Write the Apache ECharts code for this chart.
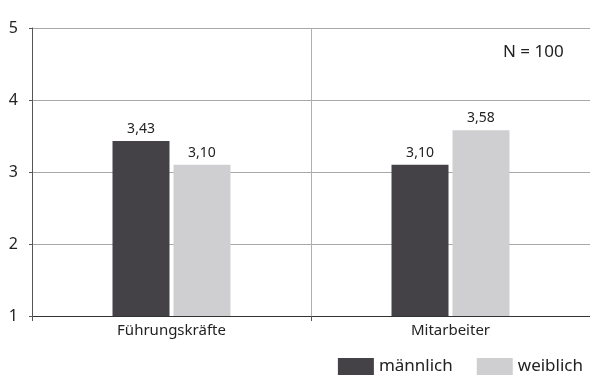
<!DOCTYPE html>
<html>
<head>
<meta charset="utf-8">
<script src="https://cdn.jsdelivr.net/npm/echarts@6/dist/echarts.min.js"></script>
<style>
  html, body { margin: 0; padding: 0; background: #fff; }
  #chart { width: 590px; height: 380px; }
</style>
</head>
<body>
<div id="chart"></div>
<script>
// Gruppen und Mittelwerte je Geschlecht
const categories = ['Führungskräfte', 'Mitarbeiter'];
const maennlich = [3.43, 3.10];
const weiblich = [3.10, 3.58];
const seriesNames = ['männlich', 'weiblich'];
const yTicks = [1, 2, 3, 4, 5];
const sampleNote = 'N = 100';

const FONT = '"Noto Sans", "Open Sans", sans-serif';
const fmt = v => v.toFixed(2).replace('.', ',');

const chart = echarts.init(document.getElementById('chart'), null, { renderer: 'canvas' });

const barLabel = {
  show: true,
  position: 'top',
  distance: 5,
  color: '#222',
  fontFamily: FONT,
  fontSize: 14,
  formatter: p => fmt(p.value)
};

chart.setOption({
  animation: false,
  textStyle: { fontFamily: FONT },
  grid: { left: 32, right: 0, top: 28, bottom: 64, containLabel: false },
  legend: {
    right: 2,
    bottom: 0,
    itemWidth: 36,
    itemHeight: 17,
    itemGap: 24,
    icon: 'rect',
    textStyle: { fontFamily: FONT, fontSize: 17, color: '#222', padding: [0, 0, 0, 0] },
    data: seriesNames
  },
  xAxis: {
    type: 'category',
    data: categories,
    boundaryGap: true,
    axisLine: { lineStyle: { color: '#333', width: 1 } },
    axisTick: { show: true, length: 5, lineStyle: { color: '#555' } },
    axisLabel: { color: '#222', fontFamily: FONT, fontSize: 15, margin: 7 },
    splitLine: { show: true, lineStyle: { color: '#b0b0b0', width: 1 } }
  },
  yAxis: {
    type: 'value',
    min: yTicks[0],
    max: yTicks[yTicks.length - 1],
    interval: 1,
    axisLine: { show: true, lineStyle: { color: '#555', width: 1 } },
    axisTick: { show: true, length: 3, lineStyle: { color: '#555' } },
    axisLabel: { color: '#222', fontFamily: FONT, fontSize: 16, margin: 14, align: 'right' },
    splitLine: { show: true, lineStyle: { color: '#a8a8a8', width: 1 } }
  },
  series: [
    {
      name: seriesNames[0],
      type: 'bar',
      data: maennlich,
      barWidth: 57,
      barGap: '7%',
      itemStyle: { color: '#444246' },
      label: barLabel
    },
    {
      name: seriesNames[1],
      type: 'bar',
      data: weiblich,
      barWidth: 57,
      barGap: '7%',
      itemStyle: { color: '#cfcfd1' },
      label: barLabel
    }
  ],
  graphic: [
    {
      type: 'text',
      left: 503,
      top: 44,
      style: { text: sampleNote, fontFamily: FONT, fontSize: 17, fill: '#222' }
    }
  ]
});
</script>
</body>
</html>
